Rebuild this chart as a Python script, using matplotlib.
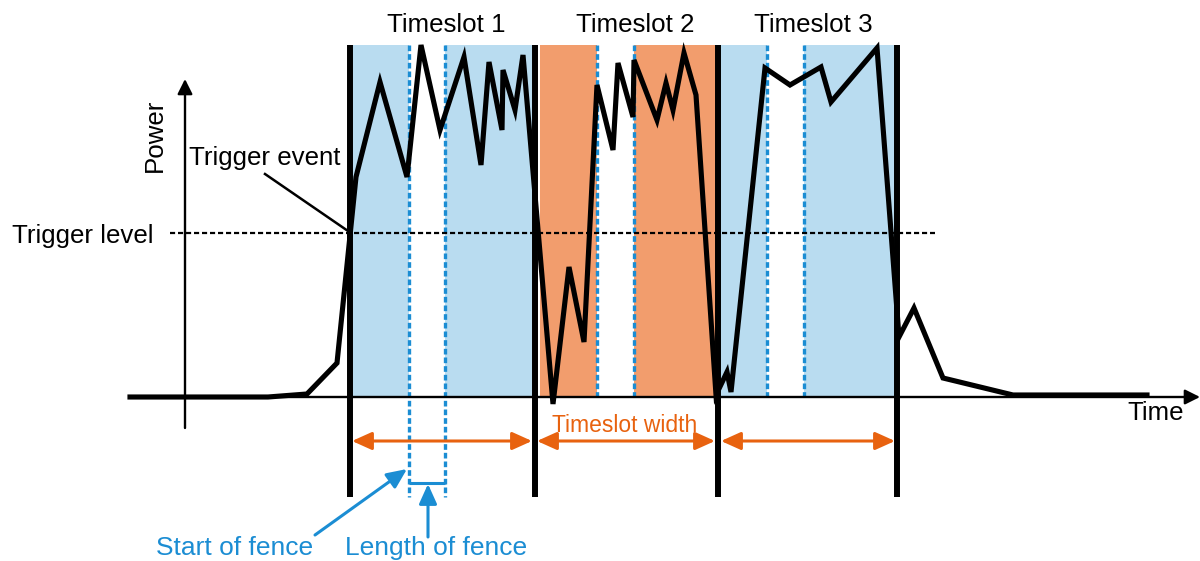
import matplotlib
matplotlib.use("Agg")
import matplotlib.pyplot as plt

plt.rcParams['font.family'] = ['Liberation Sans', 'DejaVu Sans']

# ---- data (diagram units: x = time, y = power, screen-like scale) ----
trace_t = [130, 268, 307, 337, 356, 380, 407, 421, 440, 464, 481, 489, 502, 503,
           515, 523, 532, 553, 569, 584, 597, 613, 618, 633, 634, 657, 666, 673,
           684, 696, 716, 727, 731, 765, 790, 821, 831, 877, 899, 914, 943, 1013, 1147]
trace_p = [397, 397, 394, 363, 177, 82, 177, 45, 130, 57, 165, 62, 130, 70,
           110, 55, 160, 404, 267, 342, 85, 150, 63, 117, 60, 120, 83, 110,
           53, 95, 395, 372, 392, 68, 85, 67, 102, 48, 337, 308, 378, 395, 395]

slot_edges = [350, 535, 718, 897]
slot_fill_left = [352, 540, 719]
slot_fill_right = [532, 716, 895]
slot_colors = ['#B9DCF0', '#F29D6D', '#B9DCF0']
slot_labels = ['Timeslot 1', 'Timeslot 2', 'Timeslot 3']
slot_label_x = [446, 635, 813]
fence_start = [408.7, 597, 767]
fence_length = 36.6
fence_bottom = [497, 397, 397]
width_arrows = [(352, 532), (537, 715), (721, 895)]

trigger_level = 233
baseline = 397
top = 45
bottom = 497

BLUE = '#1B8DD3'
ORANGE = '#E8620F'

fig = plt.figure(figsize=(12, 5.61), dpi=100)
ax = fig.add_axes([0, 0, 1, 1])
ax.set_xlim(0, 1200)
ax.set_ylim(561, 0)
ax.axis('off')

# slot fills
for l, r, c in zip(slot_fill_left, slot_fill_right, slot_colors):
    ax.fill_between([l, r], [top, top], [baseline, baseline], color=c, lw=0, zorder=1)
# fences (white gaps)
for fs in fence_start:
    ax.fill_between([fs, fs + fence_length], [top, top], [baseline, baseline],
                    color='white', lw=0, zorder=2)
# fence dotted lines
for fs, fb in zip(fence_start, fence_bottom):
    for x in (fs, fs + fence_length):
        ax.plot([x, x], [top, fb], color=BLUE, lw=2.4, dashes=(1.7, 0.9),
                solid_capstyle='butt', dash_capstyle='butt', zorder=3)

# trigger level
ax.plot([170, 935], [trigger_level, trigger_level], color='black', lw=1.6,
        dashes=(2.3, 1.3), zorder=3)

# axes arrows
ax.annotate('', xy=(1200, baseline), xytext=(130, baseline),
            arrowprops=dict(arrowstyle='-|>,head_length=0.9,head_width=0.45',
                            lw=1.7, color='black', mutation_scale=10,
                            shrinkA=0, shrinkB=0), zorder=3)
ax.annotate('', xy=(185, 79), xytext=(185, 428),
            arrowprops=dict(arrowstyle='-|>,head_length=0.9,head_width=0.45',
                            lw=1.7, color='black', mutation_scale=10,
                            shrinkA=0, shrinkB=0), zorder=3)

# power trace
ax.plot(trace_t, trace_p, color='black', lw=3.7, solid_joinstyle='miter', zorder=4)

# slot boundaries
for x in slot_edges:
    ax.plot([x, x], [top, bottom], color='black', lw=4.3, solid_capstyle='butt', zorder=5)

# slot labels
for lab, x in zip(slot_labels, slot_label_x):
    ax.text(x, 31.5, lab, ha='center', va='baseline', fontsize=18.6, color='black')

# timeslot width arrows
for a, b in width_arrows:
    ax.annotate('', xy=(b, 441), xytext=(a, 441),
                arrowprops=dict(arrowstyle='<|-|>,head_length=1.0,head_width=0.45',
                                lw=2.2, color=ORANGE, mutation_scale=12,
                                shrinkA=0, shrinkB=0), zorder=4)
ax.text(624.5, 432, 'Timeslot width', ha='center', va='baseline', fontsize=16.5, color=ORANGE)

# trigger event annotation
ax.plot([265, 348], [174, 231], color='black', lw=1.8, zorder=4)
ax.text(189, 165, 'Trigger event', ha='left', va='baseline', fontsize=18.6)
ax.text(12, 243, 'Trigger level', ha='left', va='baseline', fontsize=18.6)
ax.text(155, 135, 'Power', ha='center', va='center', rotation=90, fontsize=18.6)
ax.text(1127, 420, 'Time', ha='left', va='baseline', fontsize=18.6)

# fence annotations
ax.annotate('', xy=(407, 469), xytext=(315, 535),
            arrowprops=dict(arrowstyle='-|>,head_length=1.0,head_width=0.45',
                            lw=2.2, color=BLUE, mutation_scale=12,
                            shrinkA=0, shrinkB=0), zorder=4)
ax.plot([fence_start[0], fence_start[0] + fence_length], [483, 483], color=BLUE,
        lw=2.2, solid_capstyle='butt', zorder=4)
ax.annotate('', xy=(428, 484), xytext=(428, 537),
            arrowprops=dict(arrowstyle='-|>,head_length=1.0,head_width=0.45',
                            lw=2.2, color=BLUE, mutation_scale=12,
                            shrinkA=0, shrinkB=0), zorder=4)
ax.text(156, 555, 'Start of fence', ha='left', va='baseline', fontsize=19, color=BLUE)
ax.text(345, 555, 'Length of fence', ha='left', va='baseline', fontsize=19, color=BLUE)

fig.savefig('out.png', dpi=100)
